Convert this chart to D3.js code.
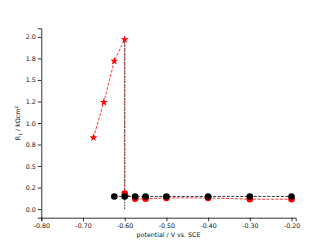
<!DOCTYPE html>
<html><head><meta charset="utf-8">
<script src="https://cdn.jsdelivr.net/npm/d3@7"></script>
<style>html,body{margin:0;padding:0;background:#fff;}svg{display:block;font-family:"DejaVu Sans",sans-serif;}</style>
</head><body>
<svg id="c" width="328" height="245"></svg>
<script>
const starX = [-0.675, -0.65, -0.625, -0.60];
const starY = [0.83, 1.24, 1.72, 1.97];
const redX = [-0.60, -0.575, -0.55, -0.50, -0.40, -0.30, -0.20];
const redY = [0.18, 0.12, 0.12, 0.13, 0.13, 0.115, 0.115];
const blackX = [-0.625, -0.60, -0.575, -0.55, -0.50, -0.40, -0.30, -0.20];
const blackY = [0.147, 0.147, 0.147, 0.147, 0.147, 0.147, 0.147, 0.147];
const vlineX = [-0.60, -0.60];
const vlineY = [0.0, 1.97];
const xTicks = [-0.80, -0.70, -0.60, -0.50, -0.40, -0.30, -0.20];
const yTicks = [0.0, 0.25, 0.5, 0.75, 1.0, 1.25, 1.5, 1.75, 2.0];
const yTickLabels = ["0.0", "0.2", "0.5", "0.8", "1.0", "1.2", "1.5", "1.8", "2.0"];

const svg = d3.select("#c");
const L = 41.3, R = 295.7, T = 28.3, B = 217.7;
const x = d3.scaleLinear().domain([-0.80, -0.19]).range([L, R]);
const y = d3.scaleLinear().domain([-0.1, 2.1]).range([B, T]);

const xa = svg.append("g").attr("transform", `translate(0,${B})`)
  .call(d3.axisBottom(x).tickValues(xTicks).tickFormat(d => d.toFixed(2)).tickSizeOuter(0).tickSize(3.5).tickPadding(2));
const ya = svg.append("g").attr("transform", `translate(${L},0)`)
  .call(d3.axisLeft(y).tickValues(yTicks).tickFormat((d, i) => yTickLabels[i]).tickSizeOuter(0).tickSize(3.5).tickPadding(2));
[xa, ya].forEach(a => {
  a.selectAll("text").attr("font-size", 6.3).attr("font-family", "DejaVu Sans").attr("fill", "#111");
  a.selectAll("line").attr("stroke", "#000").attr("stroke-width", 0.8);
  a.select(".domain").attr("stroke", "#000").attr("stroke-width", 0.8);
});

svg.append("text").attr("x", (L + R) / 2).attr("y", 237).attr("text-anchor", "middle")
  .attr("font-size", 6.3).attr("fill", "#111").text("potential / V vs. SCE");
const yl = svg.append("text").attr("transform", `translate(20,${(T + B) / 2}) rotate(-90)`)
  .attr("text-anchor", "middle").attr("font-size", 6.3).attr("fill", "#111");
yl.append("tspan").text("R");
yl.append("tspan").attr("font-size", 4.5).attr("dy", 1.8).text("1");
yl.append("tspan").attr("dy", -1.8).text(" / kΩcm");
yl.append("tspan").attr("font-size", 4.5).attr("dy", -2.5).text("2");

const line = d3.line().x(d => x(d[0])).y(d => y(d[1]));
const redPts = starX.map((v, i) => [v, starY[i]]).concat(redX.map((v, i) => [v, redY[i]]));
const starPts = starX.map((v, i) => [v, starY[i]]);
const redCirc = redX.map((v, i) => [v, redY[i]]);
const blackPts = blackX.map((v, i) => [v, blackY[i]]);
const vPts = vlineX.map((v, i) => [v, vlineY[i]]);

svg.append("path").datum(redPts).attr("d", line).attr("fill", "none")
  .attr("stroke", "#ff0000").attr("stroke-width", 0.8).attr("stroke-dasharray", "3,1.5");
svg.append("path").datum(vPts).attr("d", line).attr("fill", "none")
  .attr("stroke", "#444").attr("stroke-width", 1).attr("stroke-dasharray", "1.8,1");
svg.append("path").datum(blackPts).attr("d", line).attr("fill", "none")
  .attr("stroke", "#000").attr("stroke-width", 0.8).attr("stroke-dasharray", "3,1.5");

svg.selectAll(".star").data(starPts).enter().append("path")
  .attr("d", d3.symbol().type(d3.symbolStar).size(20))
  .attr("transform", d => `translate(${x(d[0])},${y(d[1])})`)
  .attr("fill", "#ff0000");
svg.selectAll(".rc").data(redCirc).enter().append("circle")
  .attr("cx", d => x(d[0])).attr("cy", d => y(d[1])).attr("r", 3.3).attr("fill", "#ff0000");
svg.selectAll(".bc").data(blackPts).enter().append("circle")
  .attr("cx", d => x(d[0])).attr("cy", d => y(d[1])).attr("r", 3.3).attr("fill", "#000");
</script>
</body></html>
